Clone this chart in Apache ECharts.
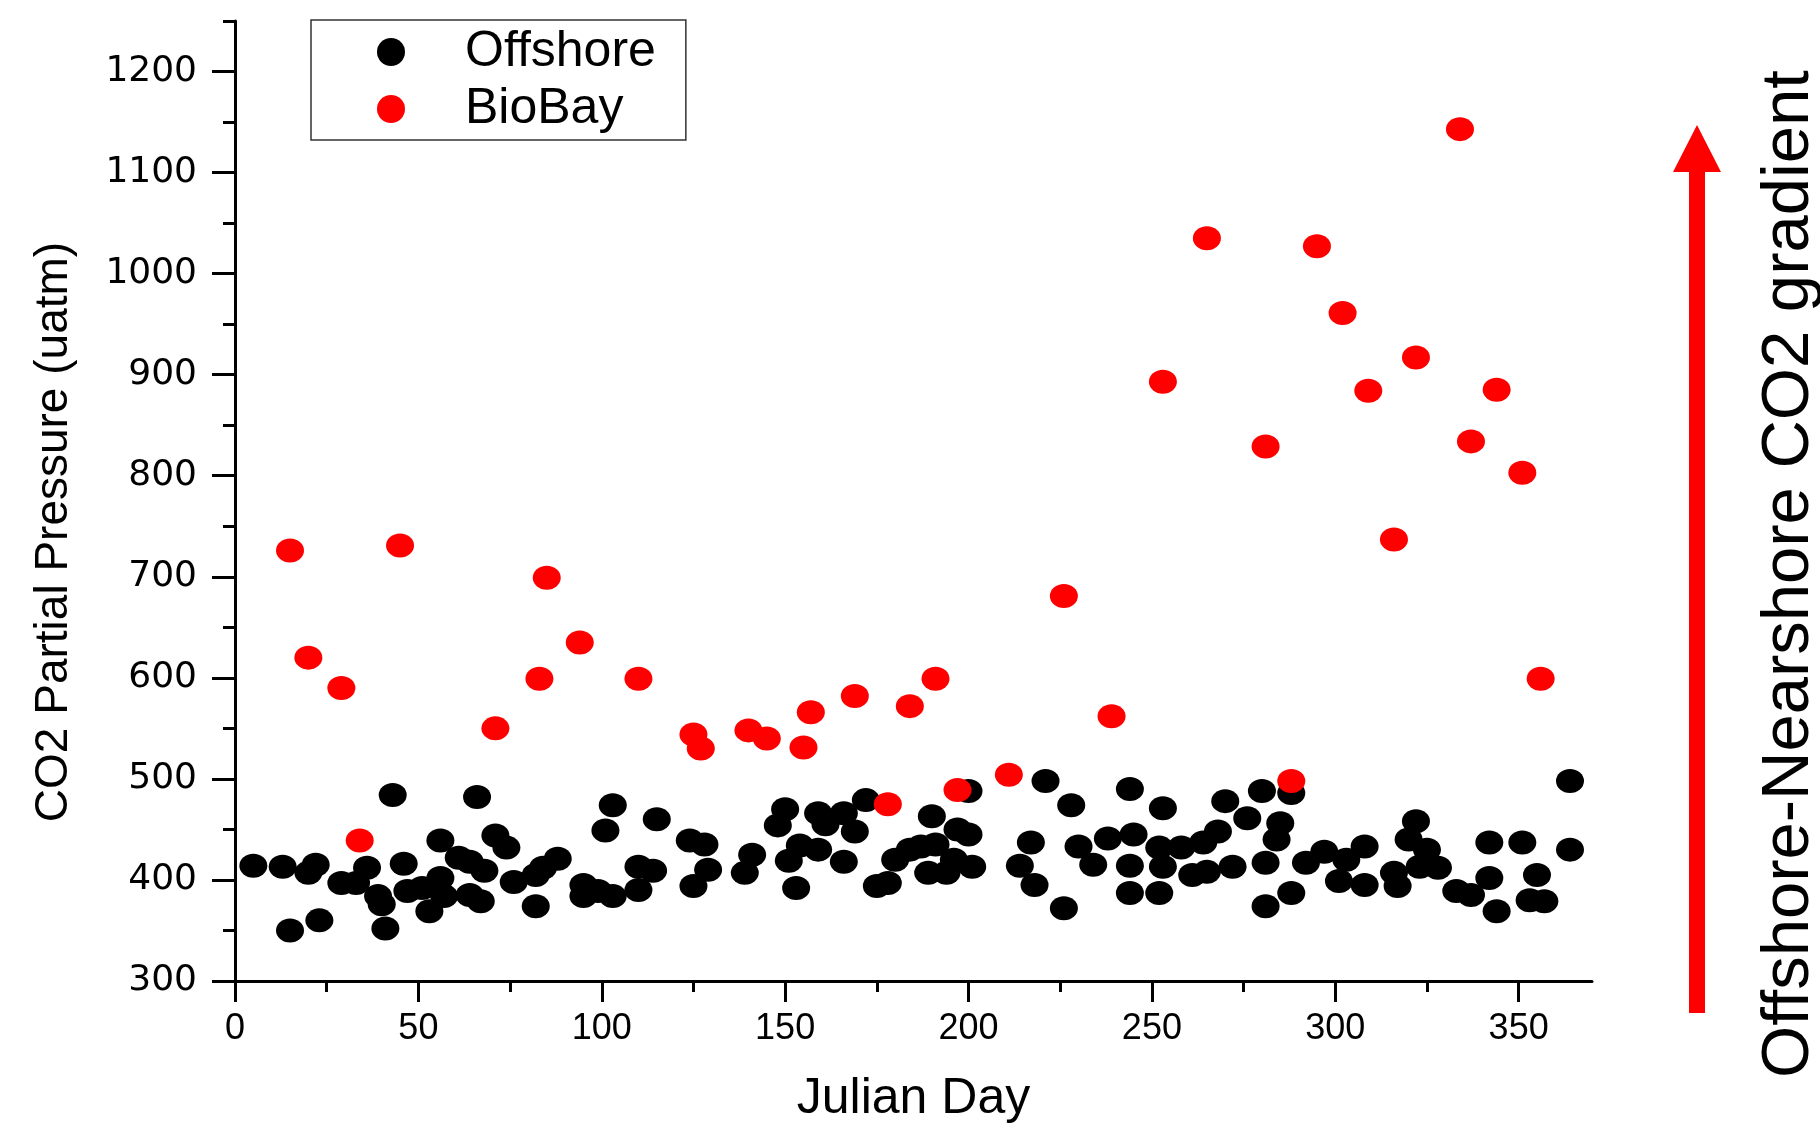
<!DOCTYPE html>
<html>
<head>
<meta charset="utf-8">
<script src="https://cdn.jsdelivr.net/npm/echarts@6/dist/echarts.min.js"></script>
<style>
html,body{margin:0;padding:0;background:#fff;}
#chart{width:1820px;height:1135px;}
</style>
</head>
<body>
<div id="chart"></div>
<script>
// ---- data (Julian day, CO2 partial pressure in uatm) ----
var offshoreDays = [5,13,15,20,22,23,29,33,36,39,40,41,43,46,47,51,53,56,56,57,61,64,68,66,71,74,64,67,76,82,84,88,82,95,95,99,103,101,103,110,114,110,115,124,128,125,129,
  139,141,148,150,153,151,154,159,159,161,166,166,169,172,175,178,180,184,187,191,189,194,190,196,197,200,200,201,214,217,218,221,226,228,230,234,238,244,245,244,244,253,252,253,252,
  258,261,264,265,268,270,272,276,280,281,285,284,288,281,288,292,297,301,303,308,308,316,317,322,320,325,323,328,333,337,342,344,342,351,355,353,357,364,364];
var offshoreCO2 = [414,413,350,407,415,360,397,397,412,384,376,352,484,416,389,392,369,439,402,384,422,418,409,482,444,432,385,379,398,405,412,421,374,395,384,389,384,449,474,413,409,390,460,439,435,394,410,
  407,425,454,470,392,419,434,466,430,455,466,418,448,479,394,397,420,430,433,435,407,407,463,420,450,445,488,413,414,437,395,498,372,474,433,415,441,490,445,414,387,471,432,413,387,
  432,405,437,408,448,478,413,461,488,417,456,440,486,374,387,417,428,399,420,433,395,407,394,458,440,430,413,412,389,385,402,369,437,437,405,380,379,498,430];
var bioBayDays = [15,20,29,34,45,71,83,85,94,110,125,127,140,145,155,157,169,178,184,191,197,211,226,239,253,265,281,288,295,302,309,316,322,334,337,344,351,356];
var bioBayCO2  = [726,620,590,439,731,550,599,699,635,599,544,530,548,540,531,566,582,475,572,599,489,504,681,562,893,1035,829,498,1027,961,884,737,917,1143,834,885,803,599];

var xTickLabels = [0,50,100,150,200,250,300,350];
var xMinorTicks = [25,75,125,175,225,275,325];
var yTickLabels = [300,400,500,600,700,800,900,1000,1100,1200];
var yMinorTicks = [350,450,550,650,750,850,950,1050,1150,1250];

var seriesNames = ['Offshore','BioBay'];
var xTitle = 'Julian Day';
var yTitle = 'CO2 Partial Pressure (uatm)';
var sideText = 'Offshore-Nearshore CO2 gradient';

function pairs(xs, ys){ var out=[]; for (var i=0;i<xs.length;i++) out.push([xs[i], ys[i]]); return out; }

var FONT = "'Liberation Sans', Arial, sans-serif";
var chart = echarts.init(document.getElementById('chart'), null, {renderer:'canvas'});

var baseAxis = function(extra){
  var a = {
    type:'value', splitLine:{show:false},
    axisLine:{show:false, onZero:false, lineStyle:{color:'#000', width:3}},
    axisTick:{show:false}, axisLabel:{show:false}
  };
  for (var k in extra) a[k] = extra[k];
  return a;
};

chart.setOption({
  backgroundColor:'#fff',
  animation:false,
  grid:{left:235, right:228, top:21, bottom:154, outerBoundsMode:'none', containLabel:false},
  legend:{
    orient:'vertical', left:311, top:20,
    padding:[7,30,6,66], itemGap:7, itemWidth:138, itemHeight:28,
    icon:'circle',
    borderColor:'#333', borderWidth:1.5, backgroundColor:'#fff',
    textStyle:{fontSize:50, fontFamily:FONT, color:'#000', lineHeight:50},
    data:seriesNames
  },
  xAxis:[
    {
      type:'value', min:0, max:370, position:'bottom',
      splitLine:{show:false},
      axisLine:{show:true, onZero:false, lineStyle:{color:'#000', width:3}},
      axisTick:{show:true, customValues:xTickLabels, length:21, lineStyle:{color:'#000', width:3}},
      axisLabel:{show:true, customValues:xTickLabels, fontSize:36, fontFamily:FONT, color:'#000', margin:30,
        formatter:function(v){ return String(v); }},
      name:xTitle, nameLocation:'middle', nameGap:93,
      nameTextStyle:{fontSize:50, fontFamily:FONT, color:'#000'}
    },
    baseAxis({min:0, max:370, position:'bottom',
      axisTick:{show:true, customValues:xMinorTicks, length:11, lineStyle:{color:'#000', width:3}}})
  ],
  yAxis:[
    {
      type:'value', min:300, max:1250, position:'left',
      splitLine:{show:false},
      axisLine:{show:true, onZero:false, lineStyle:{color:'#000', width:3}},
      axisTick:{show:true, customValues:yTickLabels, length:23, lineStyle:{color:'#000', width:3}},
      axisLabel:{show:true, customValues:yTickLabels, fontSize:36, fontFamily:"'DejaVu Sans', Verdana, sans-serif", color:'#000', margin:38,
        formatter:function(v){ return String(v); }}
    },
    baseAxis({min:300, max:1250, position:'left',
      axisTick:{show:true, customValues:yMinorTicks, length:12, lineStyle:{color:'#000', width:3}}})
  ],
  series:[
    {
      name:seriesNames[0], type:'scatter', xAxisIndex:0, yAxisIndex:0,
      symbol:'circle', symbolSize:[28,24],
      itemStyle:{color:'#000', opacity:1},
      data:pairs(offshoreDays, offshoreCO2), z:2
    },
    {
      name:seriesNames[1], type:'scatter', xAxisIndex:0, yAxisIndex:0,
      symbol:'circle', symbolSize:[28,24],
      itemStyle:{color:'#ff0000', opacity:1},
      data:pairs(bioBayDays, bioBayCO2), z:3
    }
  ],
  graphic:[
    {
      type:'text', x:54, y:532, rotation:Math.PI/2,
      style:{text:yTitle, fontSize:46, fontFamily:FONT, fill:'#000', align:'center', verticalAlign:'middle'}
    },
    {
      type:'text', x:1790, y:574, rotation:Math.PI/2,
      style:{text:sideText, fontSize:67, fontFamily:FONT, fill:'#000', align:'center', verticalAlign:'middle'}
    },
    {
      type:'polygon',
      shape:{points:[[1689,1013],[1705,1013],[1705,172],[1721,172],[1697,125],[1673,172],[1689,172]]},
      style:{fill:'#ff0000'}
    }
  ]
});
</script>
</body>
</html>
